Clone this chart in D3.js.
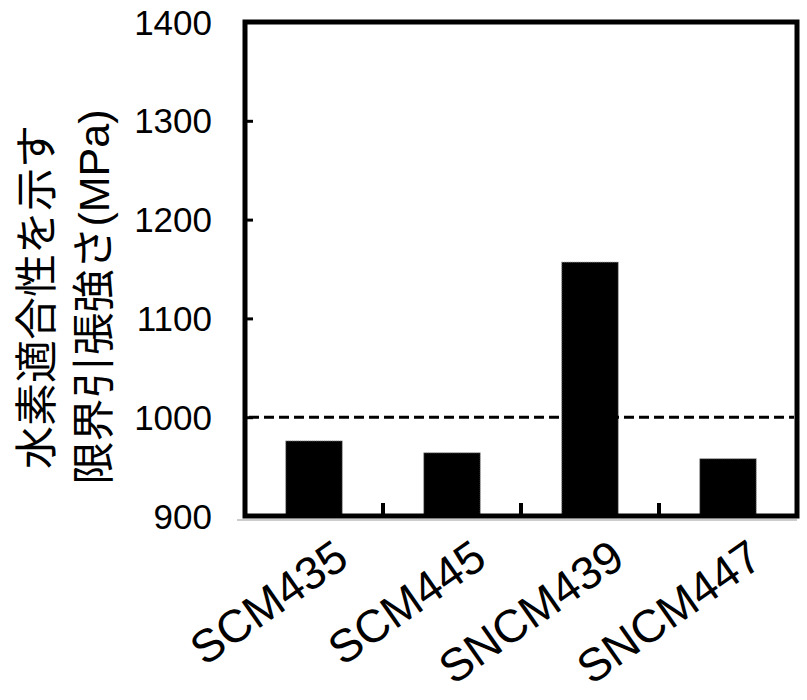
<!DOCTYPE html>
<html>
<head>
<meta charset="utf-8">
<script src="https://cdn.jsdelivr.net/npm/d3@7"></script>
<style>
  body { margin: 0; background: #fff; }
  text { font-family: "Liberation Sans", Arial, sans-serif; fill: #000; }
</style>
</head>
<body>
<div id="chart"></div>
<script>
// data
const steels = ["SCM435", "SCM445", "SNCM439", "SNCM447"]
const strength = [976, 964, 1157, 958]
const yTicks = [900, 1000, 1100, 1200, 1300, 1400]
const limitLine = 1000
const titleLines = ["水素適合性を示す", "限界引張強さ(MPa)"]

const width = 807, height = 700
const plotLeft = 245, plotRight = 797, plotTop = 22, plotBottom = 516

const svg = d3.select("#chart")
    .append("svg")
    .attr("width", width)
    .attr("height", height)

// scales
const xScale = d3.scaleBand()
    .domain(steels)
    .range([plotLeft, plotRight])
    .paddingInner(0.59)
    .paddingOuter(0.295)

const yScale = d3.scaleLinear()
    .domain([900, 1400])
    .range([plotBottom, plotTop])

// bars
svg.selectAll("rect.bar")
    .data(steels)
    .enter()
    .append("rect")
    .attr("class", "bar")
    .attr("x", d => xScale(d))
    .attr("y", (d, i) => yScale(strength[i]))
    .attr("width", xScale.bandwidth())
    .attr("height", (d, i) => yScale(900) - yScale(strength[i]))
    .attr("fill", "#000")
    .attr("stroke", "#999")
    .attr("stroke-width", 1)
    .attr("stroke-dasharray", "1,1")

// dashed limit line at 1000 MPa
svg.append("line")
    .attr("x1", plotLeft + 4)
    .attr("x2", plotRight - 3)
    .attr("y1", yScale(limitLine))
    .attr("y2", yScale(limitLine))
    .attr("stroke", "#000")
    .attr("stroke-width", 3)
    .attr("stroke-dasharray", "10,5")

// y axis: ticks point inward
const yAxis = d3.axisRight(yScale)
    .tickValues(yTicks)
    .tickSize(8)
    .tickFormat("")
svg.append("g")
    .attr("transform", `translate(${plotLeft}, 0)`)
    .call(yAxis)
    .call(g => g.select(".domain").remove())
    .call(g => g.selectAll(".tick line").attr("stroke", "#000").attr("stroke-width", 3))

svg.append("g")
    .selectAll("text")
    .data(yTicks)
    .enter()
    .append("text")
    .attr("x", 212)
    .attr("y", d => yScale(d))
    .attr("dy", "0.36em")
    .attr("text-anchor", "end")
    .style("font-size", "35px")
    .text(d => d)

// x ticks between categories, pointing up into the plot
const step = xScale.step()
const boundaries = steels.slice(1).map(d => xScale(d) - xScale.paddingInner() * step / 2)
svg.append("g")
    .selectAll("line")
    .data(boundaries)
    .enter()
    .append("line")
    .attr("x1", d => d)
    .attr("x2", d => d)
    .attr("y1", plotBottom)
    .attr("y2", plotBottom - 13)
    .attr("stroke", "#000")
    .attr("stroke-width", 4)

// thin grey shadow line under the axis
svg.append("line")
    .attr("x1", plotLeft - 8)
    .attr("x2", plotRight)
    .attr("y1", plotBottom + 4)
    .attr("y2", plotBottom + 4)
    .attr("stroke", "#999")
    .attr("stroke-width", 1)

// frame
svg.append("rect")
    .attr("x", plotLeft)
    .attr("y", plotTop)
    .attr("width", plotRight - plotLeft)
    .attr("height", plotBottom - plotTop)
    .attr("fill", "none")
    .attr("stroke", "#000")
    .attr("stroke-width", 5)

// category labels, rotated
svg.append("g")
    .selectAll("text")
    .data(steels)
    .enter()
    .append("text")
    .attr("text-anchor", "end")
    .attr("transform", d => `translate(${xScale(d) + xScale.bandwidth() / 2 + 37}, 564) rotate(-35)`)
    .style("font-size", "46px")
    .text(d => d)

// y axis title, two lines
svg.append("g")
    .selectAll("text")
    .data(titleLines)
    .enter()
    .append("text")
    .attr("text-anchor", "middle")
    .attr("transform", (d, i) => `translate(${52 + i * 57}, 297) rotate(-90)`)
    .style("font-family", "'Liberation Sans', 'Noto Sans CJK JP', sans-serif")
    .style("font-size", "43px")
    .text(d => d)
</script>
</body>
</html>
